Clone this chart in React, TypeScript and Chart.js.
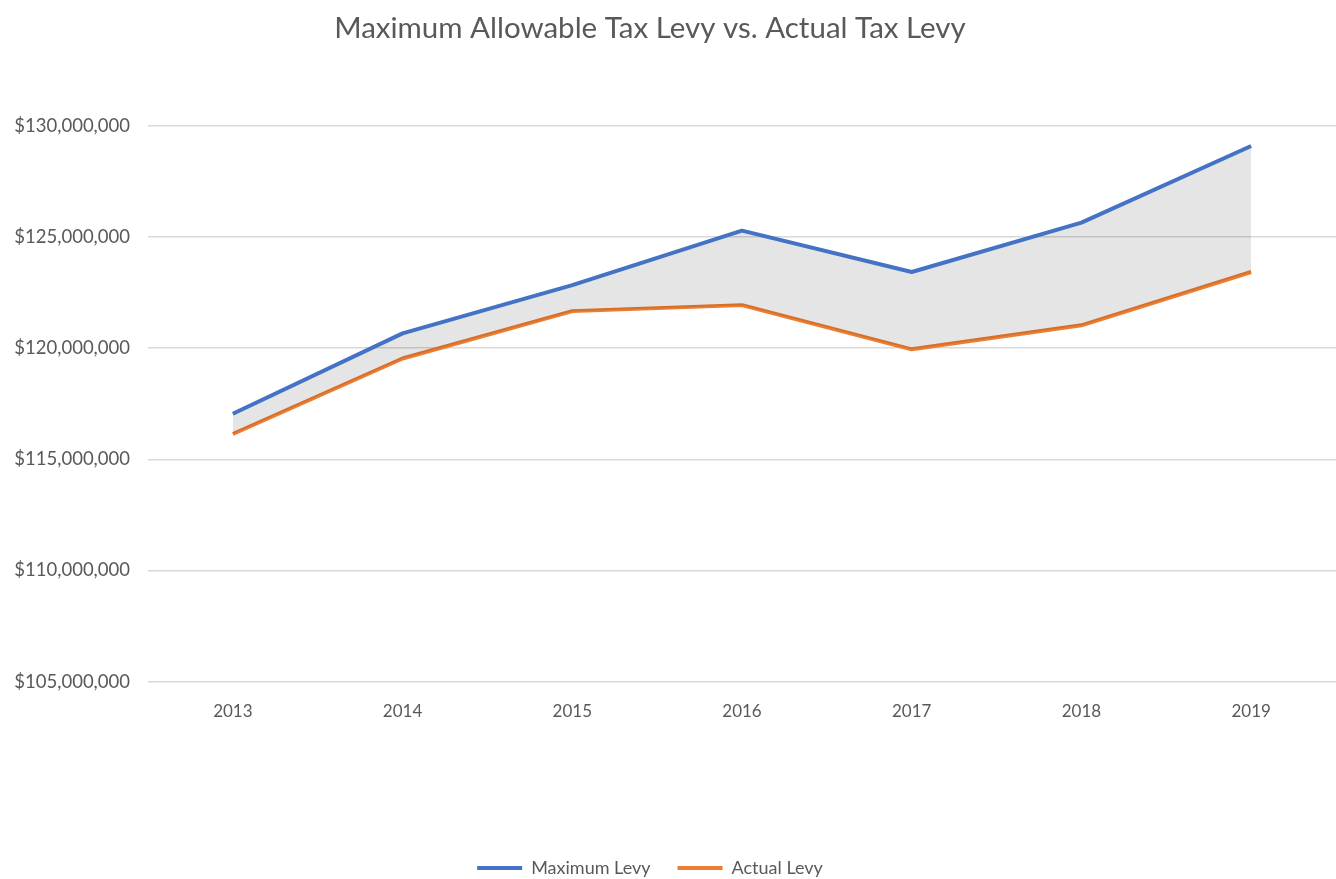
import React, { useEffect, useRef } from "react";
import { Chart, registerables } from "chart.js";

Chart.register(...registerables);

const years = ["2013", "2014", "2015", "2016", "2017", "2018", "2019"];
const maximumLevy = [117050000, 120670000, 122840000, 125290000, 123430000, 125650000, 129100000];
const actualLevy = [116140000, 119540000, 121670000, 121940000, 119950000, 121030000, 123430000];
const yMin = 105000000;
const yMax = 130000000;
const yStep = 5000000;

const TEXT = "#595959";
const FONT = "Lato, 'Open Sans', sans-serif";

export default function App() {
  const ref = useRef<HTMLCanvasElement | null>(null);

  useEffect(() => {
    if (!ref.current) return;
    const chart = new Chart(ref.current, {
      type: "line",
      data: {
        labels: years,
        datasets: [
          {
            label: "Maximum Levy",
            data: maximumLevy,
            borderColor: "#4472C4",
            backgroundColor: "rgba(0,0,0,0.1)",
            borderWidth: 4,
            pointRadius: 0,
            tension: 0,
            borderJoinStyle: "round",
            fill: "+1",
          },
          {
            label: "Actual Levy",
            data: actualLevy,
            borderColor: "#ED7D31",
            backgroundColor: "#ED7D31",
            borderWidth: 4,
            pointRadius: 0,
            tension: 0,
            borderJoinStyle: "round",
            fill: false,
          },
        ],
      },
      options: {
        animation: false,
        responsive: false,
        maintainAspectRatio: false,
        layout: { padding: 0 },
        plugins: {
          title: {
            display: true,
            text: "Maximum Allowable Tax Levy vs. Actual Tax Levy",
            color: TEXT,
            font: { family: FONT, size: 29.5, weight: "normal" },
            padding: { top: 11, bottom: 79.6 },
          },
          legend: {
            display: true,
            position: "bottom",
            labels: {
              usePointStyle: true,
              pointStyle: "line",
              pointStyleWidth: 45,
              color: TEXT,
              font: { family: FONT, size: 18 },
              padding: 27,
            },
          },
          tooltip: { enabled: false },
        },
        scales: {
          x: {
            offset: true,
            grid: { display: false },
            border: { display: false },
            ticks: {
              color: TEXT,
              font: { family: FONT, size: 17 },
              padding: 12,
            },
            afterFit: (scale: any) => {
              scale.height = 150.4;
            },
          },
          y: {
            min: yMin,
            max: yMax,
            grid: { color: "#d9d9d9", lineWidth: 1.5, drawTicks: false },
            border: { display: false },
            ticks: {
              stepSize: yStep,
              color: TEXT,
              font: { family: FONT, size: 18.5 },
              padding: 18,
              callback: (v: any) => "$" + Number(v).toLocaleString("en-US"),
            },
            afterFit: (scale: any) => {
              scale.width = 184;
            },
          },
        },
      },
    });
    return () => chart.destroy();
  }, []);

  return (
    <div
      style={{
        position: "fixed",
        left: -36,
        top: 0,
        width: 1372,
        height: 887,
        background: "#fff",
      }}
    >
      <canvas ref={ref} width={1372} height={887} style={{ display: "block" }} />
    </div>
  );
}
